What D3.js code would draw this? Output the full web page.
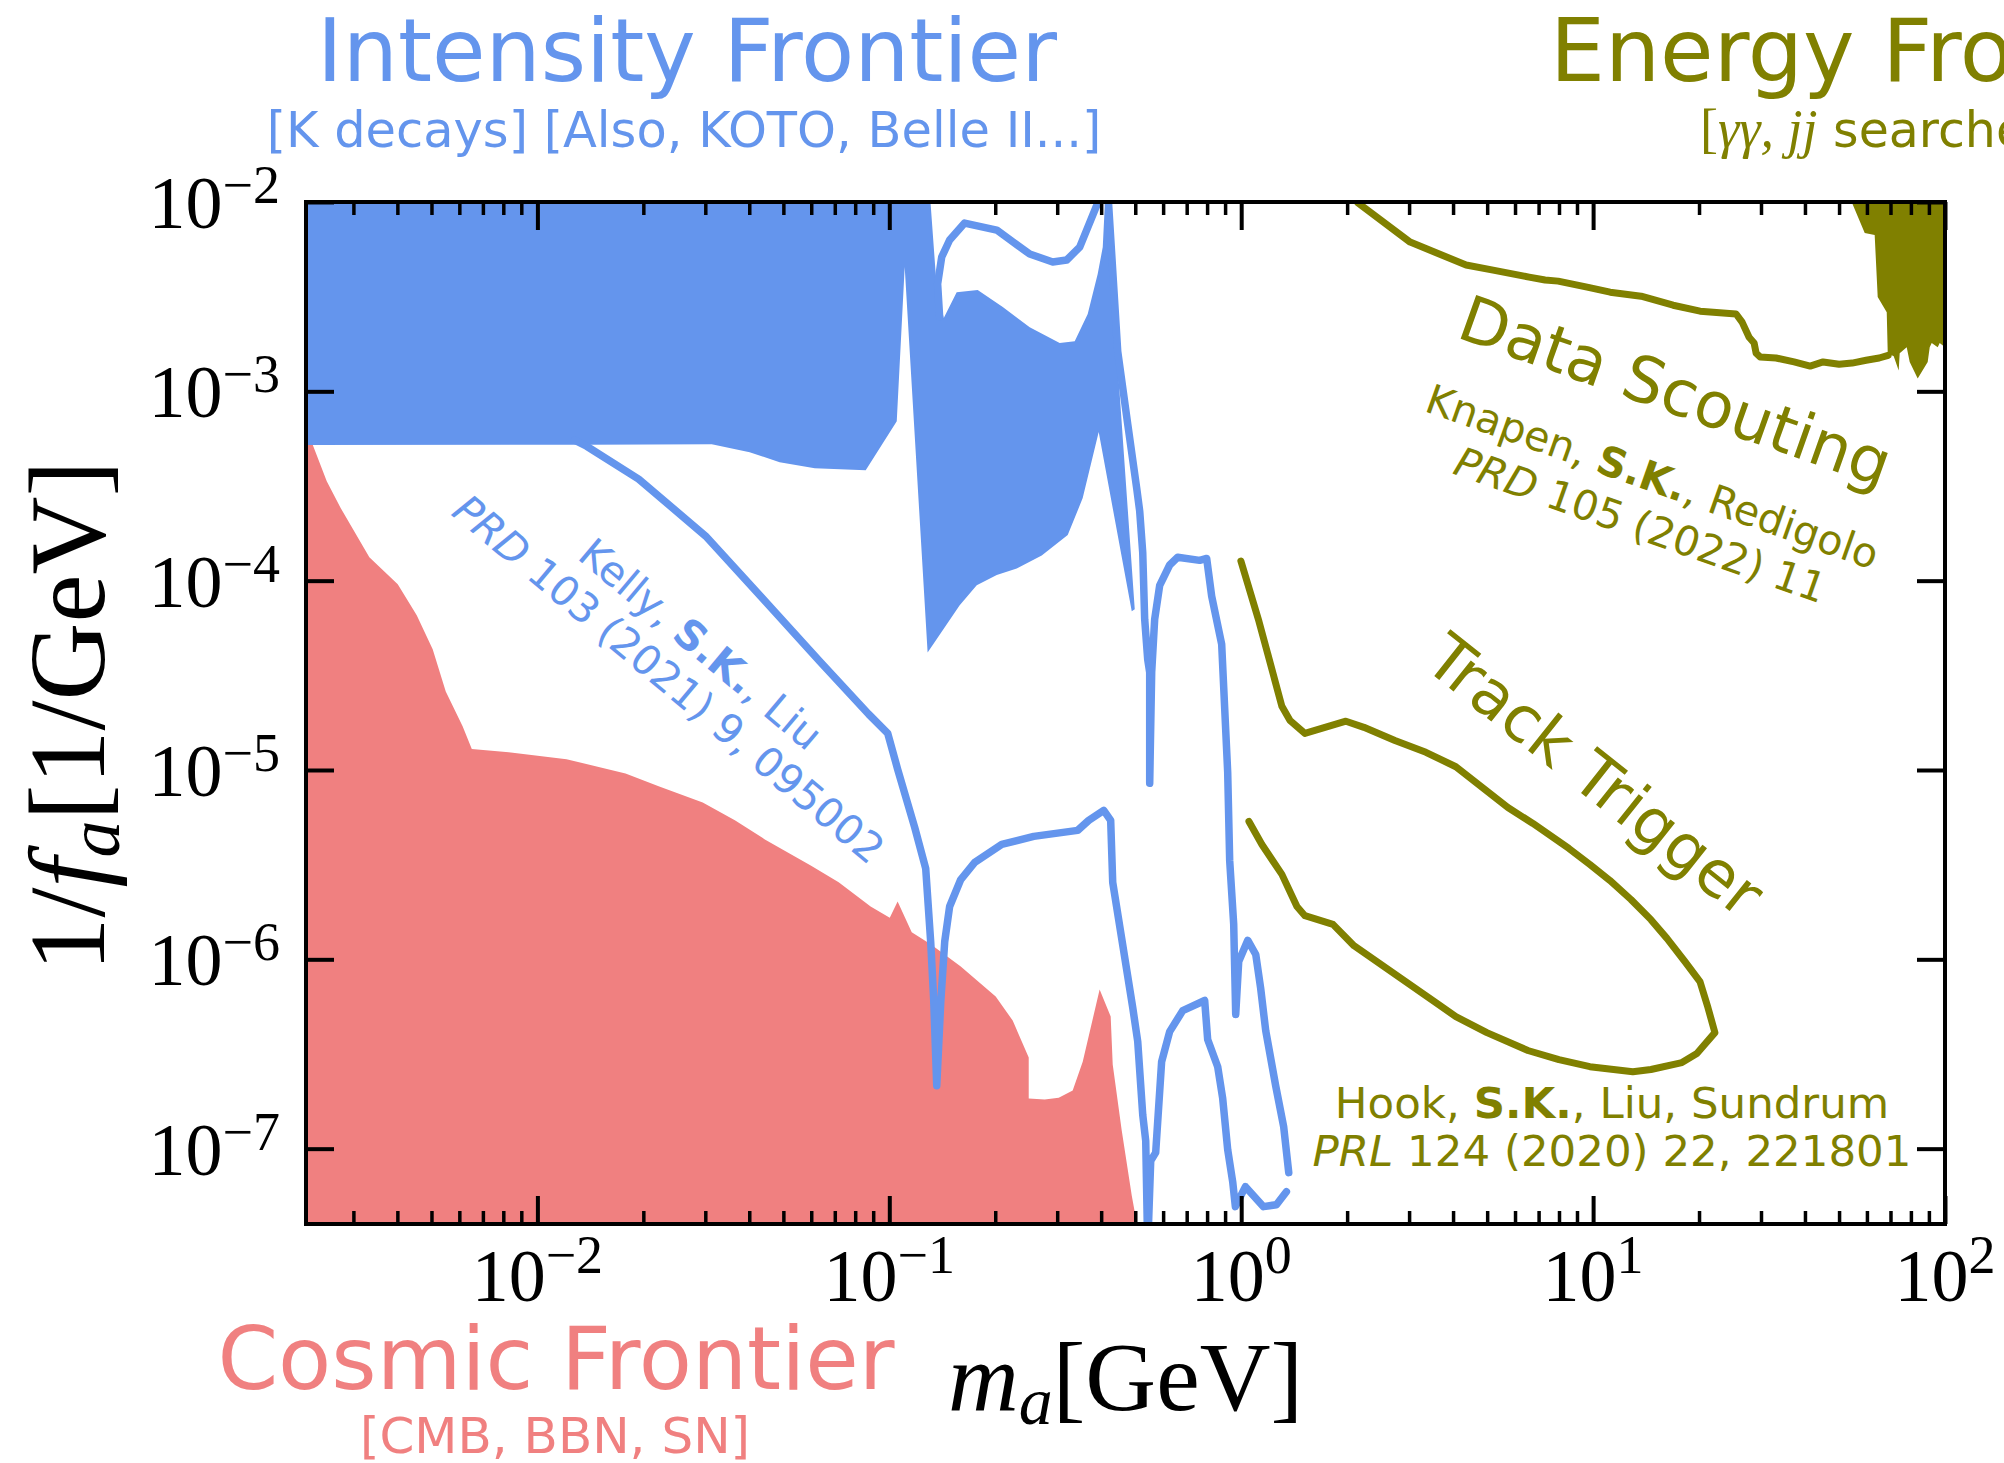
<!DOCTYPE html>
<html>
<head>
<meta charset="utf-8">
<script src="https://cdn.jsdelivr.net/npm/d3@7"></script>
<style>
  body { margin: 0; background: #fff; }
  svg { display: block; }
</style>
</head>
<body>
<svg id="chart" width="2004" height="1463"></svg>
<script>
// ---- data: [m_a in GeV, 1/f_a in 1/GeV] ----
const xDomain = [2.2e-3, 100];
const yDomain = [4e-8, 1e-2];
const xMajor = [1e-2, 1e-1, 1, 10, 100];
const xMajorExp = ["\u22122", "\u22121", "0", "1", "2"];
const yMajor = [1e-2, 1e-3, 1e-4, 1e-5, 1e-6, 1e-7];
const yMajorExp = ["\u22122", "\u22123", "\u22124", "\u22125", "\u22126", "\u22127"];

// Cosmic frontier (CMB, BBN, SN) excluded region
const cosmicFill = [
  [2.0e-3, 5.26e-4], [2.3e-3, 5.2e-4], [2.52e-3, 3.35e-4], [2.76e-3, 2.42e-4],
  [3.33e-3, 1.33e-4], [4.01e-3, 9.57e-5], [4.54e-3, 6.56e-5], [5.04e-3, 4.34e-5],
  [5.49e-3, 2.60e-5], [6.13e-3, 1.70e-5], [6.51e-3, 1.29e-5], [8.29e-3, 1.24e-5],
  [1.21e-2, 1.14e-5], [1.78e-2, 9.59e-6], [2.22e-2, 8.19e-6], [2.95e-2, 6.74e-6],
  [3.64e-2, 5.42e-6], [4.43e-2, 4.30e-6], [5.98e-2, 3.13e-6], [7.18e-2, 2.55e-6],
  [8.85e-2, 1.90e-6], [0.1003, 1.66e-6], [0.1056, 2.02e-6], [0.1158, 1.39e-6],
  [0.1311, 1.20e-6], [0.1596, 9.16e-7], [0.2006, 6.36e-7], [0.2242, 4.75e-7],
  [0.249, 3.03e-7], [0.249, 1.84e-7], [0.2764, 1.82e-7], [0.303, 1.86e-7],
  [0.332, 2.03e-7], [0.3545, 2.88e-7], [0.396, 6.92e-7], [0.4257, 4.99e-7],
  [0.4314, 2.78e-7], [0.4575, 1.25e-7], [0.4886, 5.65e-8], [0.52, 3.0e-8],
  [2.0e-3, 3.0e-8]
];

// Intensity frontier (K decays etc.) excluded region
const intensityFill = [
  [2.0e-3, 1.2e-2], [0.130, 1.2e-2], [0.1364, 3.51e-3], [0.1428, 2.44e-3],
  [0.1554, 3.34e-3], [0.1783, 3.43e-3], [0.2101, 2.79e-3], [0.2506, 2.18e-3],
  [0.3049, 1.80e-3], [0.3364, 1.84e-3], [0.3663, 2.56e-3], [0.3910, 4.16e-3],
  [0.4042, 5.78e-3], [0.412, 1.2e-2], [0.4175, 1.2e-2], [0.4230, 5.58e-3],
  [0.4428, 1.63e-3], [0.4983, 7.06e-5], [0.4886, 6.89e-5], [0.3936, 6.09e-4],
  [0.3545, 2.73e-4], [0.3214, 1.74e-4], [0.2711, 1.36e-4], [0.2302, 1.16e-4],
  [0.2020, 1.07e-4], [0.1772, 9.45e-5], [0.1585, 7.41e-5], [0.1285, 4.18e-5],
  [0.1106, 4.53e-3], [0.1050, 6.96e-4], [0.0857, 3.83e-4], [0.0614, 3.93e-4],
  [0.0488, 4.22e-4], [0.0401, 4.77e-4], [0.0313, 5.26e-4], [0.01381, 5.23e-4],
  [2.0e-3, 5.2e-4]
];

const upperLine = [
  [0.139, 2.47e-3], [0.1372, 3.69e-3], [0.1409, 5.12e-3], [0.1484, 6.30e-3],
  [0.1637, 7.74e-3], [0.2020, 7.11e-3], [0.2506, 5.31e-3], [0.2913, 4.82e-3],
  [0.3193, 4.94e-3], [0.3476, 5.78e-3], [0.391, 9.88e-3], [0.404, 1.23e-2]
];

// Kelly, S.K., Liu projection
const kellyLine = [
  [0.01276, 5.52e-4], [0.0138, 5.13e-4], [0.0194, 3.44e-4], [0.03006, 1.72e-4],
  [0.04309, 8.27e-5], [0.0634, 3.75e-5], [0.0874, 1.97e-5], [0.0990, 1.56e-5],
  [0.1056, 1.01e-5], [0.1181, 4.97e-6], [0.1269, 3.02e-6], [0.1311, 1.24e-6],
  [0.1337, 6.13e-7], [0.1364, 2.15e-7], [0.1400, 5.91e-7], [0.1437, 1.24e-6],
  [0.1484, 1.90e-6], [0.1596, 2.64e-6], [0.1749, 3.25e-6], [0.2087, 4.05e-6],
  [0.2573, 4.46e-6], [0.3430, 4.80e-6], [0.3687, 5.42e-6], [0.4068, 6.12e-6],
  [0.4257, 5.42e-6], [0.4314, 2.55e-6], [0.4918, 5.56e-7], [0.5081, 3.68e-7],
  [0.5250, 1.51e-7], [0.5354, 1.10e-7], [0.5424, 3.0e-8], [0.5532, 8.64e-8],
  [0.5715, 9.53e-8], [0.5941, 2.88e-7], [0.6262, 4.15e-7], [0.6821, 5.36e-7],
  [0.7874, 6.06e-7], [0.8030, 3.77e-7], [0.8574, 2.71e-7], [0.8860, 1.84e-7],
  [0.9154, 9.88e-8], [0.9458, 6.69e-8], [0.9625, 4.94e-8], [1.028, 6.30e-8],
  [1.157, 4.94e-8], [1.259, 5.06e-8], [1.344, 5.92e-8]
];

const midLine = [
  [0.4175, 1.16e-2], [0.4457, 1.63e-3], [0.4760, 6.71e-4], [0.5047, 3.08e-4],
  [0.5147, 2.33e-4], [0.5250, 1.41e-4], [0.5318, 6.25e-5], [0.5424, 3.84e-5],
  [0.5495, 3.28e-5], [0.5495, 8.50e-6], [0.5567, 3.28e-5], [0.5677, 6.25e-5],
  [0.5867, 9.45e-5], [0.6262, 1.21e-4], [0.6600, 1.33e-4], [0.7621, 1.28e-4],
  [0.7978, 1.31e-4], [0.8244, 8.27e-5], [0.8801, 4.61e-5], [0.9154, 9.71e-6],
  [0.9274, 3.33e-6], [0.9521, 1.53e-6], [0.9647, 5.11e-7], [0.9838, 9.74e-7],
  [1.044, 1.26e-6], [1.100, 1.06e-6], [1.136, 7.01e-7], [1.174, 4.20e-7],
  [1.253, 2.15e-7], [1.320, 1.31e-7], [1.365, 7.47e-8]
];

// Energy frontier (gamma gamma, jj searches)
const energyFill = [
  [53.2, 1.2e-2], [54.3, 1.0e-2], [59.14, 6.86e-3], [63.12, 6.69e-3],
  [64.38, 3.15e-3], [68.3, 2.62e-3], [68.75, 1.59e-3], [71.5, 1.53e-3],
  [73.85, 1.29e-3], [74.35, 1.59e-3], [77.84, 1.71e-3], [79.38, 1.43e-3],
  [83.64, 1.17e-3], [89.3, 1.43e-3], [90.48, 1.71e-3], [91.67, 1.80e-3],
  [95.35, 1.71e-3], [96.6, 1.80e-3], [100, 1.71e-3], [110, 1.71e-3],
  [110, 1.2e-2]
];

// Data scouting projection
const scoutingLine = [
  [2.05, 1.1e-2], [2.148, 9.88e-3], [3.02, 6.14e-3], [4.356, 4.65e-3],
  [5.198, 4.37e-3], [6.579, 4.01e-3], [7.304, 3.87e-3], [7.955, 3.82e-3],
  [9.616, 3.55e-3], [11.18, 3.34e-3], [13.69, 3.18e-3], [16.88, 2.85e-3],
  [20.14, 2.65e-3], [25.49, 2.56e-3], [26.51, 2.32e-3], [27.75, 1.93e-3],
  [28.68, 1.80e-3], [29.06, 1.59e-3], [29.83, 1.52e-3], [33.11, 1.50e-3],
  [37.25, 1.43e-3], [41.38, 1.36e-3], [45.04, 1.43e-3], [50.02, 1.39e-3],
  [54.45, 1.41e-3], [59.68, 1.46e-3], [65.0, 1.50e-3], [68.94, 1.55e-3]
];

// Track trigger projection
const trackLine = [
  [0.998, 1.27e-4], [1.123, 6.10e-5], [1.305, 2.17e-5], [1.375, 1.83e-5],
  [1.517, 1.56e-5], [1.984, 1.81e-5], [2.232, 1.68e-5], [2.734, 1.43e-5],
  [3.349, 1.24e-5], [4.074, 1.04e-5], [5.726, 6.34e-6], [6.745, 5.22e-6],
  [8.535, 3.85e-6], [9.792, 3.17e-6], [11.16, 2.61e-6], [12.81, 2.07e-6],
  [14.60, 1.62e-6], [16.21, 1.29e-6], [18.23, 9.74e-7], [20.12, 7.63e-7],
  [21.20, 5.56e-7], [22.19, 4.10e-7], [19.72, 3.18e-7], [17.88, 2.85e-7],
  [14.60, 2.62e-7], [12.97, 2.55e-7], [9.792, 2.71e-7], [7.995, 2.95e-7],
  [6.526, 3.30e-7], [4.991, 4.10e-7], [4.074, 4.98e-7], [3.574, 5.91e-7],
  [2.825, 8.01e-7], [2.091, 1.18e-6], [1.823, 1.53e-6], [1.517, 1.70e-6],
  [1.440, 1.90e-6], [1.305, 2.81e-6], [1.145, 4.04e-6], [1.052, 5.35e-6]
];

const blue = "#6495ED", pink = "#F08080", olive = "#808000";
const sans = "DejaVu Sans", serif = "Liberation Serif";

const svg = d3.select("#chart");
const L = 306, R = 1945, T = 202, B = 1224;

const x = d3.scaleLog().domain(xDomain).range([L, R]);
const y = d3.scaleLog().domain(yDomain).range([B, T]);

svg.append("defs").append("clipPath").attr("id", "plot")
  .append("rect").attr("x", L).attr("y", T).attr("width", R - L).attr("height", B - T);

const plot = svg.append("g").attr("clip-path", "url(#plot)");
const line = d3.line().x(d => x(d[0])).y(d => y(d[1]));

plot.append("path").datum(cosmicFill).attr("d", line).attr("fill", pink);
plot.append("path").datum(intensityFill).attr("d", line).attr("fill", blue);
plot.append("path").datum(energyFill).attr("d", line).attr("fill", olive);

[upperLine, kellyLine, midLine].forEach(s => {
  plot.append("path").datum(s).attr("d", line)
    .attr("fill", "none").attr("stroke", blue).attr("stroke-width", 7.5)
    .attr("stroke-linejoin", "round").attr("stroke-linecap", "round");
});
[scoutingLine, trackLine].forEach(s => {
  plot.append("path").datum(s).attr("d", line)
    .attr("fill", "none").attr("stroke", olive).attr("stroke-width", 7)
    .attr("stroke-linejoin", "round").attr("stroke-linecap", "round");
});

// ---- ticks (inward, all four sides) ----
let xMinor = [];
[-3, -2, -1, 0, 1].forEach(k => {
  [2, 3, 4, 5, 6, 7, 8, 9].forEach(m => {
    const v = m * Math.pow(10, k);
    if (v > xDomain[0] && v < xDomain[1]) xMinor.push(v);
  });
});

function ticks(axis, tr, vals, size, w) {
  const g = svg.append("g").attr("transform", tr)
    .call(axis.tickValues(vals).tickSize(size).tickFormat(""));
  g.select(".domain").remove();
  g.selectAll(".tick line").attr("stroke", "#000").attr("stroke-width", w);
}
ticks(d3.axisBottom(x), `translate(0,${B})`, xMajor, -28, 4);
ticks(d3.axisBottom(x), `translate(0,${B})`, xMinor, -13, 3.5);
ticks(d3.axisTop(x), `translate(0,${T})`, xMajor, -28, 4);
ticks(d3.axisTop(x), `translate(0,${T})`, xMinor, -13, 3.5);
ticks(d3.axisLeft(y), `translate(${L},0)`, yMajor, -28, 4);
ticks(d3.axisRight(y), `translate(${R},0)`, yMajor, -28, 4);

svg.append("rect").attr("x", L).attr("y", T).attr("width", R - L).attr("height", B - T)
  .attr("fill", "none").attr("stroke", "#000").attr("stroke-width", 4);

// ---- tick labels ----
xMajor.forEach((v, i) => {
  const t = svg.append("text").attr("x", x(v)).attr("y", B + 77)
    .attr("text-anchor", "middle").attr("font-family", serif).attr("font-size", 74);
  t.append("tspan").text("10");
  t.append("tspan").attr("dy", -28).attr("font-size", 54).text(xMajorExp[i]);
});
yMajor.forEach((v, i) => {
  const t = svg.append("text").attr("x", L - 26).attr("y", y(v) + 26)
    .attr("text-anchor", "end").attr("font-family", serif).attr("font-size", 74);
  t.append("tspan").text("10");
  t.append("tspan").attr("dy", -25).attr("font-size", 54).text(yMajorExp[i]);
});

// ---- axis titles ----
const xt = svg.append("text").attr("x", (L + R) / 2).attr("y", 1410)
  .attr("text-anchor", "middle").attr("font-family", serif).attr("font-size", 98);
xt.append("tspan").attr("font-style", "italic").text("m");
xt.append("tspan").attr("font-style", "italic").attr("font-size", 68).attr("dy", 14).text("a");
xt.append("tspan").attr("dy", -14).text("[GeV]");

const yt = svg.append("text").attr("transform", "translate(104,716) rotate(-90)")
  .attr("text-anchor", "middle").attr("font-family", serif).attr("font-size", 108);
yt.append("tspan").text("1/");
yt.append("tspan").attr("font-style", "italic").text("f");
yt.append("tspan").attr("font-style", "italic").attr("font-size", 74).attr("dy", 15).text("a");
yt.append("tspan").attr("dy", -15).text("[1/GeV]");

// ---- frontier titles ----
function label(txt, px, py, size, color, anchor) {
  return svg.append("text").attr("x", px).attr("y", py).attr("text-anchor", anchor || "middle")
    .attr("font-family", sans).attr("font-size", size).attr("fill", color).text(txt);
}
label("Intensity Frontier", 687, 81, 87, blue);
label("[K decays] [Also, KOTO, Belle II...]", 684, 147, 49.5, blue);
label("Energy Frontier", 1550, 81, 87, olive, "start");
const es = svg.append("text").attr("x", 1700).attr("y", 147).attr("font-size", 49).attr("fill", olive);
es.append("tspan").attr("font-family", serif).attr("font-size", 54).text("[");
es.append("tspan").attr("font-family", serif).attr("font-style", "italic").attr("font-size", 54).text("\u03b3\u03b3, jj");
es.append("tspan").attr("font-family", sans).text(" searches]");
label("Cosmic Frontier", 556, 1389, 87, pink);
label("[CMB, BBN, SN]", 555, 1453, 50, pink);

// ---- in-plot annotations ----
function rotLabel(cx, cy, ang, size, color, parts) {
  const t = svg.append("text").attr("transform", `translate(${cx},${cy}) rotate(${ang})`)
    .attr("text-anchor", "middle").attr("dy", "0.32em")
    .attr("font-family", sans).attr("font-size", size).attr("fill", color);
  parts.forEach(p => {
    const s = t.append("tspan").text(p[0]);
    if (p[1] === "b") s.attr("font-weight", "bold");
    if (p[1] === "i") s.attr("font-style", "italic");
  });
  return t;
}
rotLabel(700, 645, 40, 41, blue, [["Kelly, "], ["S.K.", "b"], [", Liu"]]);
rotLabel(668, 680, 40, 41, blue, [["PRD", "i"], [" 103 (2021) 9, 095002"]]);
rotLabel(1675, 393, 19.5, 64, olive, [["Data Scouting"]]);
rotLabel(1652, 478, 19.5, 41, olive, [["Knapen, "], ["S.K.", "b"], [", Redigolo"]]);
rotLabel(1640, 526, 19.5, 41, olive, [["PRD", "i"], [" 105 (2022) 11"]]);
rotLabel(1594, 777, 38.5, 64, olive, [["Track Trigger"]]);
rotLabel(1612, 1104, 0, 43.5, olive, [["Hook, "], ["S.K.", "b"], [", Liu, Sundrum"]]);
rotLabel(1612, 1152, 0, 43.5, olive, [["PRL", "i"], [" 124 (2020) 22, 221801"]]);
</script>
</body>
</html>
